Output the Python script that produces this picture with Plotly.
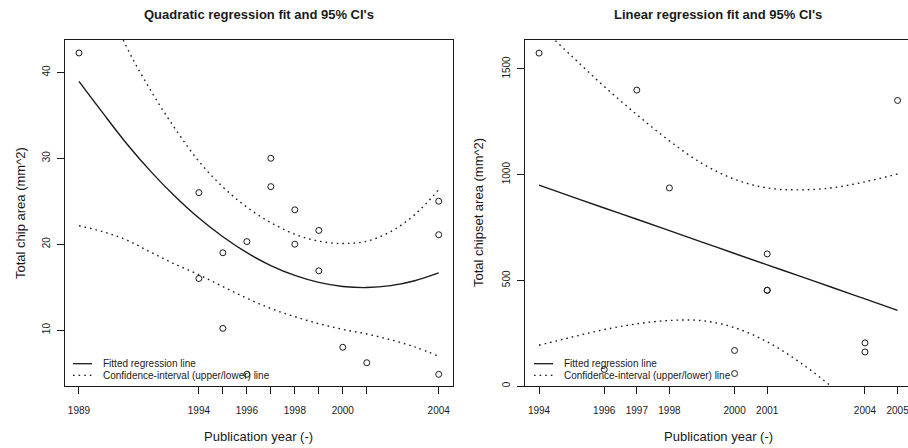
import plotly.graph_objects as go

# ---- Left panel: total chip area vs publication year (quadratic fit) ----
chip_year = [1989, 1994, 1994, 1995, 1995, 1996, 1996, 1997, 1997,
             1998, 1998, 1999, 1999, 2000, 2001, 2004, 2004, 2004]
chip_area = [42.26, 26.0, 16.0, 19.0, 10.2, 20.3, 4.85, 30.0, 26.7,
             24.0, 20.0, 21.6, 16.9, 8.0, 6.2, 25.0, 21.1, 4.85]

quad_year = [1989, 1990, 1991, 1992, 1993, 1994, 1995, 1996,
             1997, 1998, 1999, 2000, 2001, 2002, 2003, 2004]
quad_fit = [38.95, 35.25, 31.67, 28.45, 25.58, 23.04, 20.86, 19.01,
            17.51, 16.36, 15.55, 15.08, 14.95, 15.17, 15.74, 16.65]
quad_upper = [55.75, 49.05, 42.87, 37.85, 33.48, 29.64, 26.66, 24.31,
              22.51, 21.16, 20.35, 20.08, 20.35, 21.47, 23.44, 26.35]
quad_lower = [22.15, 21.45, 20.47, 19.05, 17.68, 16.44, 15.06, 13.71,
              12.51, 11.56, 10.75, 10.08, 9.55, 8.87, 8.04, 6.95]

chip_xticks = [1989, 1994, 1995, 1996, 1997, 1998, 1999, 2000, 2001, 2004]
chip_xlabels = ["1989", "1994", "", "1996", "", "1998", "", "2000", "", "2004"]
chip_yticks = [10, 20, 30, 40]

# ---- Right panel: total chipset area vs publication year (linear fit) ----
chipset_year = [1994, 1996, 1997, 1998, 2000, 2000, 2001, 2001, 2001,
                2004, 2004, 2005]
chipset_area = [1575, 78, 1400, 937, 168, 59, 625, 453, 453, 204, 161, 1351]

lin_year = [1994, 1995, 1996, 1997, 1998, 1999, 2000, 2001, 2002, 2003, 2004, 2005]
lin_fit = [950, 896, 842, 789, 735, 681, 627, 573, 520, 466, 412, 358]
lin_upper = [1707, 1561, 1417, 1284, 1160, 1053, 978, 937, 928, 938, 966, 1003]
lin_lower = [193, 231, 267, 294, 310, 309, 276, 209, 112, -6, -142, -287]

chipset_xticks = [1994, 1996, 1997, 1998, 2000, 2001, 2004, 2005]
chipset_yticks = [0, 500, 1000, 1500]

legend_labels = ["Fitted regression line", "Confidence-interval (upper/lower) line"]

W, H = 908, 448
FONT = "Liberation Sans, Arial, Helvetica, sans-serif"
INK = "#1a1a1a"
DOT = "1.6px,4px"


def px(x):
    return x / W


def py(y):
    return 1 - y / H


fig = go.Figure()


def add_panel(xs, ys, cx, fit, up, lo, xa, ya):
    fig.add_trace(go.Scatter(x=cx, y=up, mode="lines", xaxis=xa, yaxis=ya,
                             line=dict(color=INK, width=1.4, dash=DOT, shape="spline")))
    fig.add_trace(go.Scatter(x=cx, y=lo, mode="lines", xaxis=xa, yaxis=ya,
                             line=dict(color=INK, width=1.4, dash=DOT, shape="spline")))
    fig.add_trace(go.Scatter(x=cx, y=fit, mode="lines", xaxis=xa, yaxis=ya,
                             line=dict(color=INK, width=1.4, shape="spline")))
    fig.add_trace(go.Scatter(x=xs, y=ys, mode="markers", xaxis=xa, yaxis=ya,
                             marker=dict(symbol="circle-open", size=6, color=INK,
                                         line=dict(width=1, color=INK))))


add_panel(chip_year, chip_area, quad_year, quad_fit, quad_upper, quad_lower, "x", "y")
add_panel(chipset_year, chipset_area, lin_year, lin_fit, lin_upper, lin_lower, "x2", "y2")

top, bottom = 40, 386
ydom = [py(bottom), py(top)]

common_x = dict(showgrid=False, zeroline=False, showline=True, linecolor=INK, linewidth=1,
                ticks="outside", ticklen=7, tickwidth=1, tickcolor=INK,
                tickfont=dict(size=10, color=INK, family=FONT), ticklabelstandoff=8,
                ticklabeloverflow="allow")
common_y = dict(showgrid=False, zeroline=False, showline=True, linecolor=INK, linewidth=1,
                ticks="outside", ticklen=7, tickwidth=1, tickcolor=INK, tickangle=-90,
                tickfont=dict(size=10, color=INK, family=FONT), ticklabelstandoff=3)

fig.update_layout(
    width=W, height=H, margin=dict(l=0, r=0, t=0, b=0),
    paper_bgcolor="white", plot_bgcolor="white", showlegend=False,
    font=dict(family=FONT, color=INK),
    xaxis=dict(domain=[px(64.6), px(453.1)], range=[1988.4, 2004.6],
               tickmode="array", tickvals=chip_xticks, ticktext=chip_xlabels,
               mirror=True, anchor="y", **common_x),
    yaxis=dict(domain=ydom, range=[3.49, 43.77], tickmode="array", tickvals=chip_yticks,
               mirror=True, anchor="x", **common_y),
    xaxis2=dict(domain=[px(524.7), 1.0], range=[1993.56, 2005.32],
                tickmode="array", tickvals=chipset_xticks,
                ticktext=[str(v) for v in chipset_xticks],
                mirror=True, anchor="y2", **common_x),
    yaxis2=dict(domain=ydom, range=[0, 1637], tickmode="array", tickvals=chipset_yticks,
                mirror=False, anchor="x2", **common_y),
)

annotations = [
    dict(text="<b>Quadratic regression fit and 95% CI's</b>", x=px(258.8), y=py(14),
         font=dict(size=13)),
    dict(text="<b>Linear regression fit and 95% CI's</b>", x=px(718), y=py(14),
         font=dict(size=13)),
    dict(text="Publication year (-)", x=px(258.8), y=py(436), font=dict(size=13)),
    dict(text="Publication year (-)", x=px(718), y=py(436), font=dict(size=13)),
    dict(text="Total chip area (mm^2)", x=px(20), y=py((top + bottom) / 2),
         textangle=-90, font=dict(size=13)),
    dict(text="Total chipset area (mm^2)", x=px(478), y=py((top + bottom) / 2),
         textangle=-90, font=dict(size=13)),
]

shapes = []
# legends drawn in the lower-left corner of each panel
for x0 in (73, 534):
    shapes.append(dict(type="line", xref="paper", yref="paper",
                       x0=px(x0), x1=px(x0 + 19), y0=py(363.7), y1=py(363.7),
                       line=dict(color=INK, width=1.3)))
    shapes.append(dict(type="line", xref="paper", yref="paper",
                       x0=px(x0), x1=px(x0 + 19), y0=py(375.3), y1=py(375.3),
                       line=dict(color=INK, width=1.3, dash=DOT)))
    for label, yy in zip(legend_labels, (363.7, 375.3)):
        annotations.append(dict(text=label, x=px(x0 + 27.5), y=py(yy), xanchor="left",
                                font=dict(size=10)))

for a in annotations:
    a.setdefault("xref", "paper")
    a.setdefault("yref", "paper")
    a.setdefault("xanchor", "center")
    a.setdefault("yanchor", "middle")
    a.setdefault("showarrow", False)
    a["font"] = dict(family=FONT, color=INK, **a.get("font", {}))

fig.update_layout(annotations=annotations, shapes=shapes)

fig.write_html("out.html")
